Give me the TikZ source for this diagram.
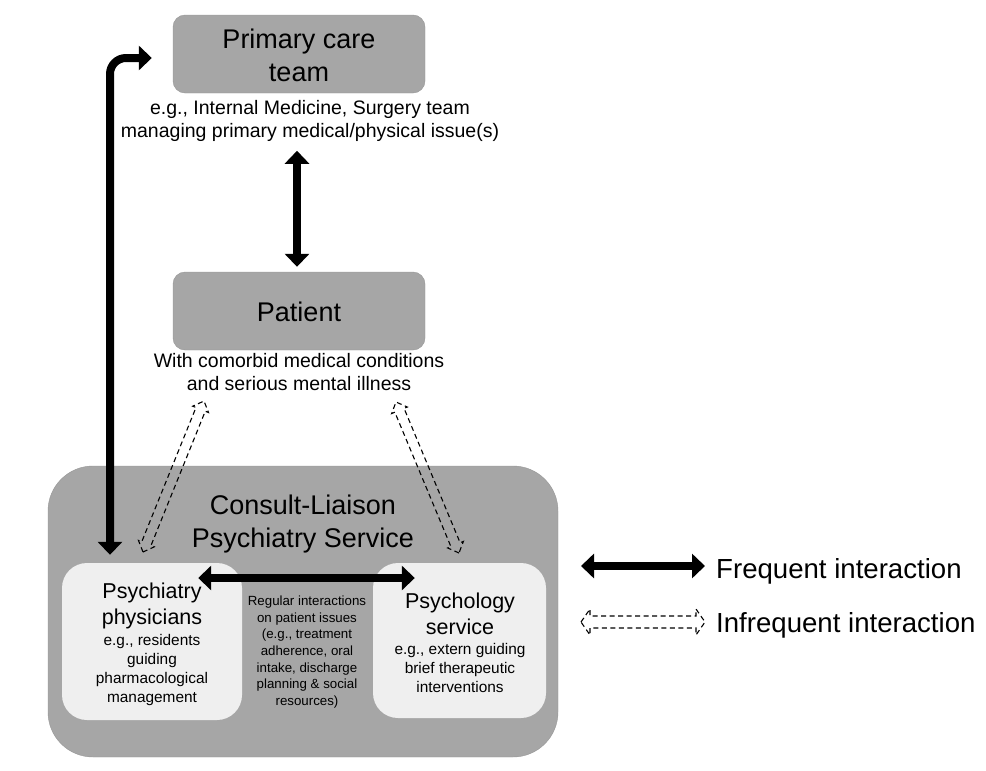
\documentclass[tikz,border=0pt]{standalone}
\usepackage{fontspec}
\setmainfont{Liberation Sans}
\usepackage{xcolor}
\definecolor{Col1}{RGB}{166,166,166}
\definecolor{Col2}{RGB}{239,239,239}
\definecolor{Col3}{RGB}{150,150,150}
\usepackage{tikz}
\usetikzlibrary{arrows.meta}
\usetikzlibrary{calc}
\tikzstyle{Dark}=[rectangle,rounded corners=12pt,draw=Col3,fill=Col1,
  thin,align=center]
\tikzstyle{Light}=[rectangle,rounded corners=25pt,fill=Col2,draw=none]
\tikzstyle{Big}=[font=\fontsize{27}{33}\selectfont,align=center,inner sep=0pt]
\tikzstyle{Legend}=[font=\fontsize{27.6}{33}\selectfont,inner sep=0pt]
\tikzstyle{Note}=[font=\fontsize{19.5}{23}\selectfont,align=center,inner sep=0pt]
\tikzstyle{Head}=[font=\fontsize{21.5}{26.5}\selectfont,align=center,inner sep=0pt]
\tikzstyle{Small}=[font=\fontsize{15.4}{18.7}\selectfont,align=center,inner sep=0pt]
\tikzstyle{Tiny}=[font=\fontsize{13.3}{16.6}\selectfont,align=center,inner sep=0pt]
\tikzstyle{Frequent}=[draw=black,line width=8pt,
  {Triangle[width=24pt,length=13pt]}-{Triangle[width=24pt,length=13pt]}]
\tikzstyle{Infrequent}=[draw=black,dash pattern=on 5pt off 3.5pt,
  line width=1.1pt,line join=miter]
% hollow dashed double arrow: tip #1, tip #2, body half width #3, head half width #4
\newcommand{\Hollow}[4]{%
  \coordinate (ha) at ($(#1)!9pt!(#2)$);
  \coordinate (hb) at ($(#2)!9pt!(#1)$);
  \draw[Infrequent] (#1)--($(ha)!#4!90:(#2)$)--($(ha)!#3!90:(#2)$)
    --($(hb)!#3!-90:(#1)$)--($(hb)!#4!-90:(#1)$)--(#2)
    --($(hb)!#4!90:(#1)$)--($(hb)!#3!90:(#1)$)
    --($(ha)!#3!-90:(#2)$)--($(ha)!#4!-90:(#2)$)--cycle;}

\begin{document}
\begin{tikzpicture}[x=1pt,y=-1pt]
    \useasboundingbox (0,0) rectangle (986,771);
        \node[Dark,minimum width=252pt,minimum height=78pt](pc)at(299,54){};
        \node[Big](pctext)at(299,55){Primary care\\team};
        \node[Note](pcnote)at(310,121)
            {e.g., Internal Medicine, Surgery team\\
             managing primary medical/physical issue(s)};
        \node[Dark,minimum width=252pt,minimum height=78pt](pt)at(299,311){};
        \node[Big](pttext)at(299,312){Patient};
        \node[Note](ptnote)at(299,372)
            {With comorbid medical conditions\\and serious mental illness};
        \node[Dark,rounded corners=45pt,minimum width=510pt,
            minimum height=291pt](cl)at(303,611.5){};
        \node[Big](cltext)at(303,524){Consult-Liaison\\Psychiatry Service};
        \node[Light,minimum width=180pt,minimum height=157pt](ps)at(152,641.5){};
        \node[Light,minimum width=173pt,minimum height=155pt](py)at(459.5,640.5){};
        \node[Head](pstext)at(152,606){Psychiatry\\physicians};
        \node[Small](psnote)at(152,670)
            {e.g., residents\\guiding\\pharmacological\\management};
        \node[Head](pytext)at(460,614){Psychology\\service};
        \node[Small](pynote)at(460,668)
            {e.g., extern guiding\\brief therapeutic\\interventions};
        \node[Tiny](mid)at(307,652)
            {Regular interactions\\on patient issues\\(e.g., treatment\\
             adherence, oral\\intake, discharge\\planning \& social\\resources)};
        \draw[Frequent,shorten <=5pt,shorten >=9pt]
            ([xshift=-2pt]pt.north)--([xshift=-13pt]pcnote.south);
        \draw[Frequent]([xshift=-44pt,yshift=63.5pt]ps.east)
            --([xshift=42pt,yshift=62.5pt]py.west);
        \draw[Frequent,rounded corners=16pt,shorten <=8pt,shorten >=21pt]
            ([xshift=-42pt]ps.north)|-([yshift=-4pt]pc.west);
        % infrequent links to the patient
        \coordinate(ps1)at(143,552);
        \coordinate(pt1)at(204,401);
        \coordinate(py1)at(459,553);
        \coordinate(pt2)at(396,402);
        \Hollow{ps1}{pt1}{5pt}{8.5pt}
        \Hollow{py1}{pt2}{5pt}{8.5pt}
        % legend
        \node[Legend,anchor=west](fqtext)at(716,571){Frequent interaction};
        \node[Legend,anchor=west](iftext)at(716,625){Infrequent interaction};
        \coordinate(fq)at(581,566);
        \coordinate(if)at(581,622);
        \coordinate(if2)at(705,622);
        \draw[Frequent,shorten >=11pt](fq)--(fqtext.west|-fq);
        \Hollow{if}{if2}{6pt}{13pt}
    \end{tikzpicture}
\end{document}
